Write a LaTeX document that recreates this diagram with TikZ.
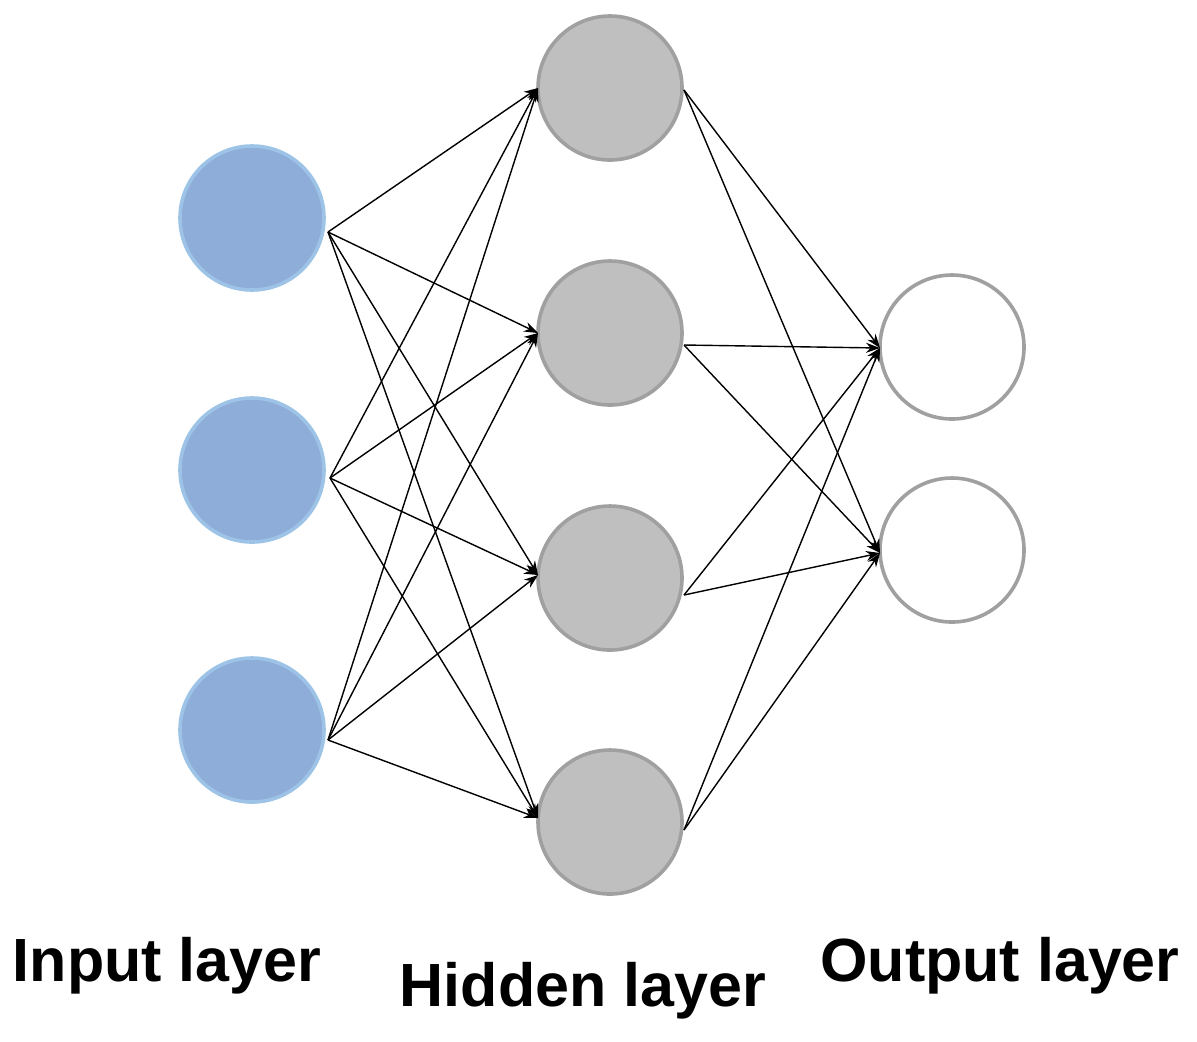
\documentclass[tikz,border=0pt]{standalone}
\usepackage{fontspec}
\setmainfont{Liberation Sans}
\usetikzlibrary{arrows.meta}
\definecolor{inFill}{HTML}{8EADD9}
\definecolor{inDraw}{HTML}{9DC3E6}
\definecolor{hidFill}{HTML}{BFBFBF}
\definecolor{hidDraw}{HTML}{A0A0A0}
\begin{document}
\begin{tikzpicture}[x=0.5pt,y=-0.5pt,
  neuron/.style={circle,minimum size=72pt,inner sep=0pt,line width=1.8pt},
  inp/.style={neuron,fill=inFill,draw=inDraw},
  hid/.style={neuron,fill=hidFill,draw=hidDraw},
  outn/.style={neuron,fill=white,draw=hidDraw},
  conn/.style={line width=0.7pt,-{Stealth[length=7pt,width=5pt]}},
  lab/.style={font=\bfseries\fontsize{30.5}{34}\selectfont}]
\useasboundingbox (0,0) rectangle (1197,1041);
\node[inp] (i1) at (252,218) {};
\node[inp] (i2) at (252,470) {};
\node[inp] (i3) at (252,730) {};
\node[hid] (h1) at (610,88) {};
\node[hid] (h2) at (610,333) {};
\node[hid] (h3) at (610,578) {};
\node[hid] (h4) at (610,822) {};
\node[outn] (o1) at (952,347) {};
\node[outn] (o2) at (952,550) {};
\coordinate (s1) at (328,232);
\coordinate (s2) at (330,478);
\coordinate (s3) at (328,740);
\coordinate (e1) at (538,88);
\coordinate (e2) at (538,333);
\coordinate (e3) at (538,575);
\coordinate (e4) at (538,818);
\coordinate (t1) at (684,90);
\coordinate (t2) at (684,345);
\coordinate (t3) at (684,595);
\coordinate (t4) at (684,830);
\coordinate (f1) at (880,348);
\coordinate (f2) at (880,553);
\foreach \s in {s1,s2,s3}{\foreach \e in {e1,e2,e3,e4}{\draw[conn] (\s) -- (\e);}}
\foreach \s in {t1,t2,t3,t4}{\foreach \e in {f1,f2}{\draw[conn] (\s) -- (\e);}}
\node[lab] (l1) at (167,966) {Input layer};
\node[lab] (l2) at (583,991) {Hidden layer};
\node[lab] (l3) at (1000,966) {Output layer};
\end{tikzpicture}
\end{document}
